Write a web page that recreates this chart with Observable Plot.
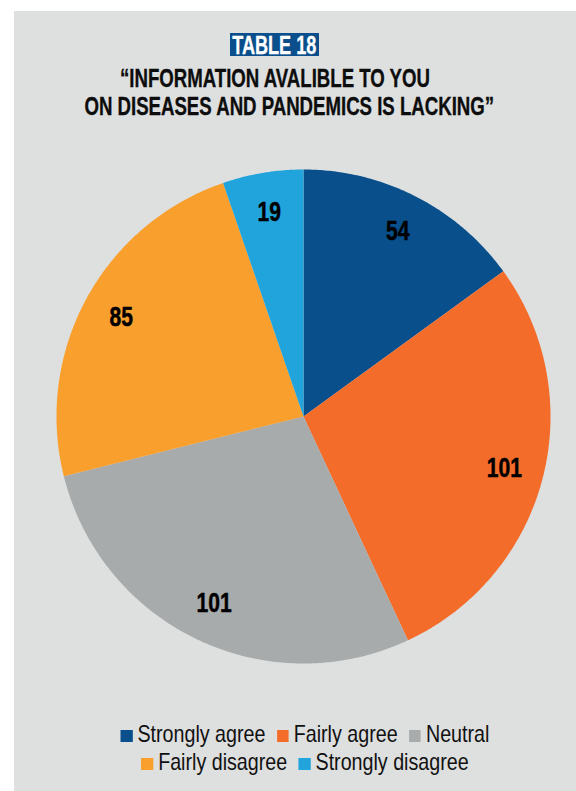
<!DOCTYPE html>
<html><head><meta charset="utf-8">
<script src="https://cdn.jsdelivr.net/npm/d3@7"></script>
<script src="https://cdn.jsdelivr.net/npm/@observablehq/plot@0.6"></script>
<style>
html,body{margin:0;padding:0;}
body{background:#fff;width:576px;height:791px;overflow:hidden;position:relative;font-family:"Liberation Sans",Arial,sans-serif;}
#panel{position:absolute;left:14px;top:11px;width:562px;height:780px;background:#dedfdf;}
#tag{position:absolute;left:216px;top:22px;width:89px;height:23px;background:#0a4f8b;color:#fff;font-weight:bold;font-size:25.5px;line-height:25px;text-align:center;white-space:nowrap;overflow:visible;-webkit-text-stroke:0.3px #fff;}
#tag span{display:inline-block;transform:scaleX(0.71);margin:0 -20px;}
#title{position:absolute;left:0;top:53px;width:522px;text-align:center;font-weight:bold;font-size:25.5px;line-height:28px;color:#0d0d0d;-webkit-text-stroke:0.35px #0d0d0d;}
#title div{display:block;white-space:nowrap;transform:scaleX(0.73);}
#chart{position:absolute;left:0;top:135px;}
#legend{position:absolute;left:20px;top:709px;width:542px;text-align:center;font-size:24px;line-height:28px;color:#111;}
#legend .row{white-space:nowrap;transform:scaleX(0.82);}
#legend .item{display:inline-block;margin:0 7px;}
#legend .sw{display:inline-block;width:14.5px;height:12px;margin-right:6px;vertical-align:0px;}
</style>
</head><body>
<div id="panel">
  <div id="tag"><span>TABLE 18</span></div>
  <div id="title"></div>
  <div id="chart"></div>
  <div id="legend"></div>
</div>
<script>
const categories = ["Strongly agree", "Fairly agree", "Neutral", "Fairly disagree", "Strongly disagree"];
const values = [54, 101, 101, 85, 19];
const colors = ["#084f8b", "#f36c2a", "#a8abac", "#f89f2e", "#21a3db"];
const titleLines = ["\u201cINFORMATION AVALIBLE TO YOU", "ON DISEASES AND PANDEMICS IS LACKING\u201d"];
const legendRows = [[0, 1, 2], [3, 4]];

// title
const titleEl = document.getElementById("title");
titleLines.forEach(t => { const d = document.createElement("div"); d.textContent = t; titleEl.appendChild(d); });

// pie geometry via d3.pie
const arcs = d3.pie().sort(null).value(d => d)(values);
const pts = [];
arcs.forEach((a, i) => {
  const cat = categories[i];
  pts.push({cat, x: 0, y: 0});
  const n = Math.max(2, Math.ceil((a.endAngle - a.startAngle) / (Math.PI / 360)));
  for (let k = 0; k <= n; k++) {
    const t = a.startAngle + (a.endAngle - a.startAngle) * k / n;
    pts.push({cat, x: Math.sin(t), y: Math.cos(t)});
  }
  pts.push({cat, x: 0, y: 0});
});
const labelR = 0.84;
const labels = arcs.map((a, i) => {
  const m = (a.startAngle + a.endAngle) / 2;
  return {x: labelR * Math.sin(m), y: labelR * Math.cos(m), text: String(values[i])};
});

const W = 562, H = 540, R = 247, cx = 289, cy = 270;
const chart = Plot.plot({
  width: W, height: H,
  margin: 0,
  style: {background: "transparent", overflow: "visible"},
  x: {axis: null, domain: [-cx / R, (W - cx) / R], range: [0, W]},
  y: {axis: null, domain: [-(H - cy) / R, cy / R], range: [H, 0]},
  color: {domain: categories, range: colors},
  marks: [
    Plot.line(pts, {x: "x", y: "y", z: "cat", fill: "cat", stroke: "none", curve: "linear"}),
    Plot.text(labels, {x: "x", y: "y", text: "text", fill: "#000", stroke: "#000", strokeWidth: 0.5,
      fontSize: 27, fontWeight: "bold", fontFamily: '"Liberation Sans",Arial,sans-serif'})
  ]
});
// condense label glyphs horizontally
d3.select(chart).selectAll("text").each(function() {
  const t = this.getAttribute("transform");
  if (t) this.setAttribute("transform", t + " scale(0.78,1)");
  else {
    const x = +this.getAttribute("x") || 0, y = +this.getAttribute("y") || 0;
    this.setAttribute("transform", `translate(${x},${y}) scale(0.78,1)`);
    this.setAttribute("x", 0); this.setAttribute("y", 0);
  }
});
document.getElementById("chart").appendChild(chart);

// legend
const leg = document.getElementById("legend");
legendRows.forEach(row => {
  const r = document.createElement("div"); r.className = "row";
  row.forEach(i => {
    const it = document.createElement("span"); it.className = "item";
    const sw = document.createElement("span"); sw.className = "sw"; sw.style.background = colors[i];
    it.appendChild(sw); it.appendChild(document.createTextNode(categories[i]));
    r.appendChild(it);
  });
  leg.appendChild(r);
});
</script>
</body></html>
